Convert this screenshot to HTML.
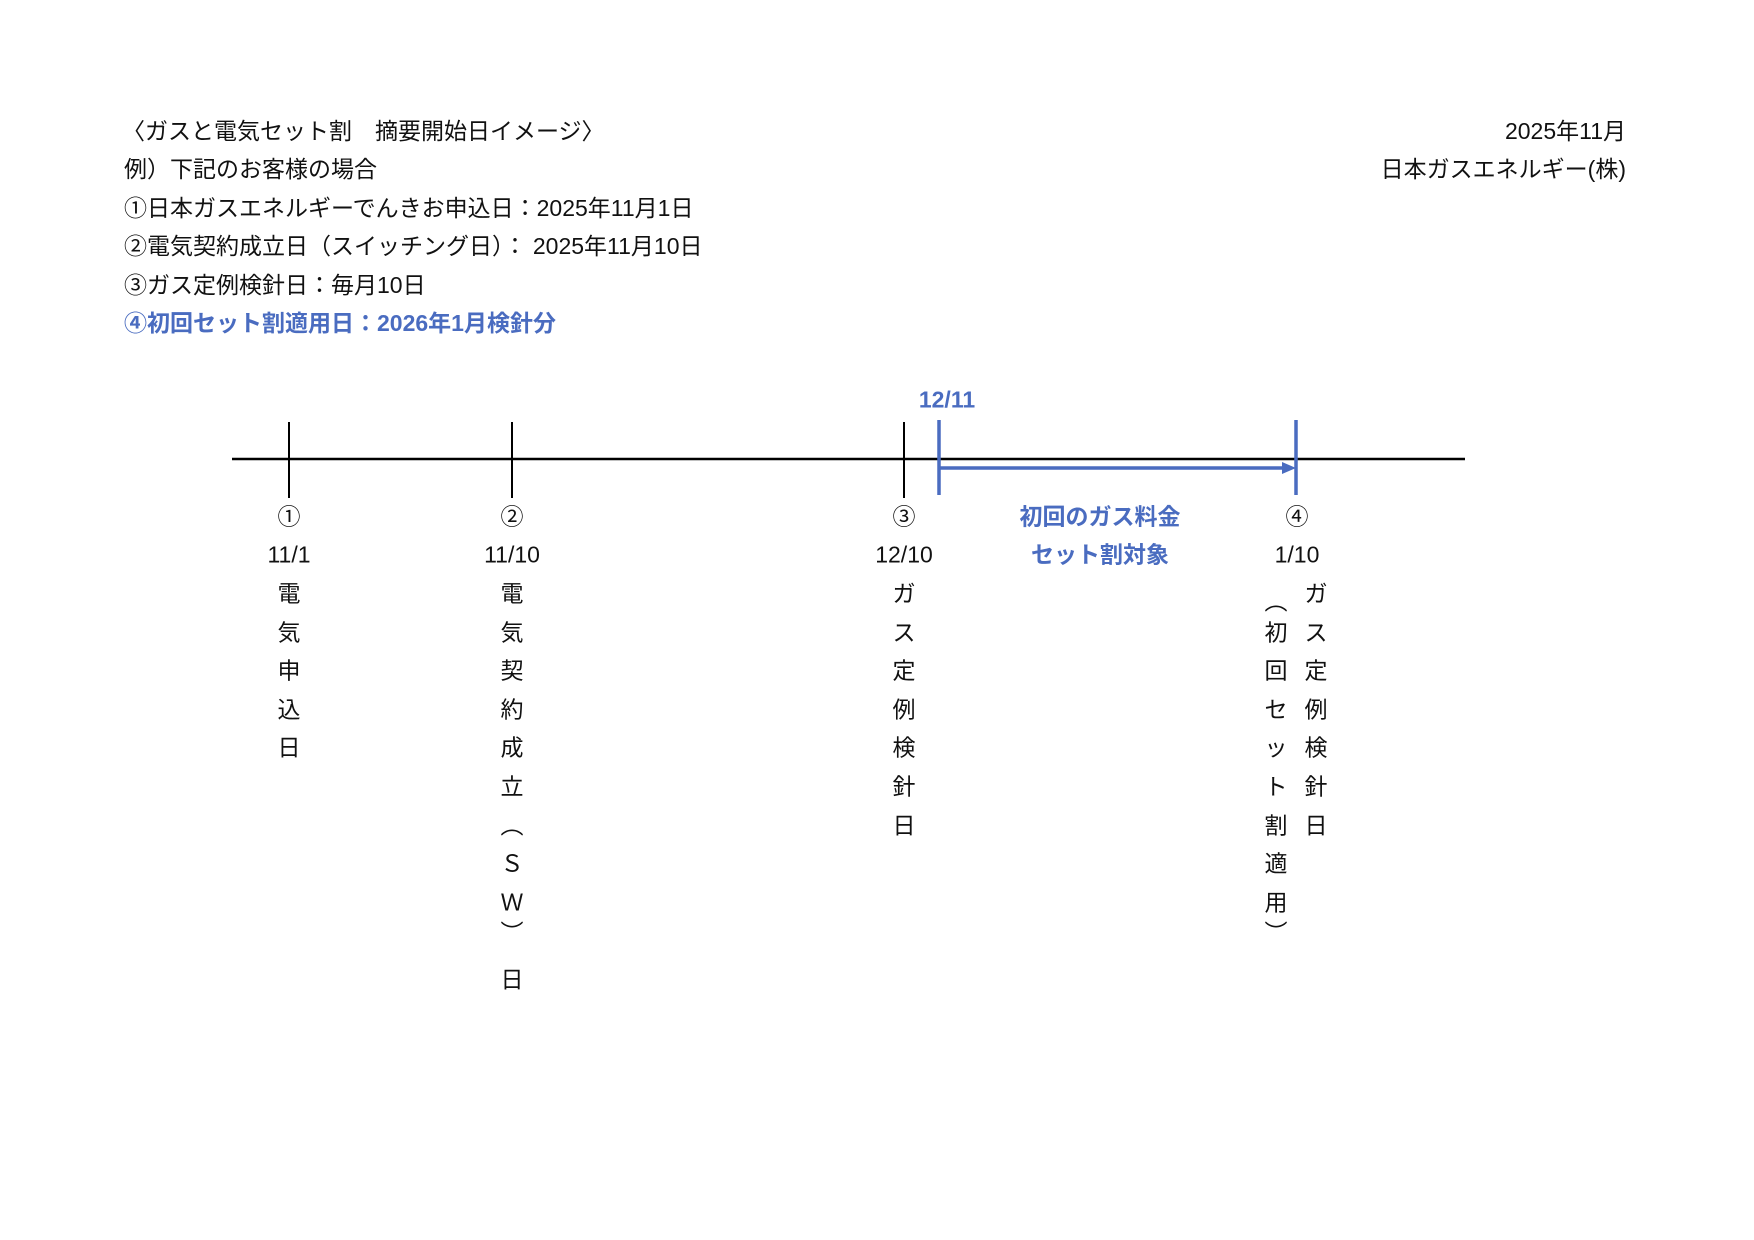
<!DOCTYPE html>
<html><head><meta charset="utf-8"><style>
html,body{margin:0;padding:0;background:#fff;}
body{width:1754px;height:1240px;position:relative;overflow:hidden;font-family:"Liberation Sans","Noto Sans CJK JP",sans-serif;font-size:23px;color:#111;}
.t{position:absolute;white-space:nowrap;line-height:1;}
.c{position:absolute;transform:translate(-50%,-50%);white-space:nowrap;line-height:1;}
.b{color:#4a6cc0;font-weight:bold;}
</style></head><body>
<div class="t" style="left:122px;top:120px">〈ガスと電気セット割　摘要開始日イメージ〉</div>
<div class="t" style="left:124px;top:158px">例）下記のお客様の場合</div>
<div class="t" style="left:124px;top:197px">①日本ガスエネルギーでんきお申込日：2025年11月1日</div>
<div class="t" style="left:124px;top:235px">②電気契約成立日（スイッチング日）：&nbsp;2025年11月10日</div>
<div class="t" style="left:124px;top:274px">③ガス定例検針日：毎月10日</div>
<div class="t b" style="left:124px;top:312px">④初回セット割適用日：2026年1月検針分</div>
<div class="t" style="right:128px;top:120px">2025年11月</div>
<div class="t" style="right:128px;top:158px">日本ガスエネルギー(株)</div>

<svg style="position:absolute;left:0;top:0" width="1754" height="1240">
<line x1="232" y1="459" x2="1465" y2="459" stroke="#000" stroke-width="2.5"/>
<line x1="289" y1="422" x2="289" y2="498" stroke="#000" stroke-width="2"/>
<line x1="512" y1="422" x2="512" y2="498" stroke="#000" stroke-width="2"/>
<line x1="904" y1="422" x2="904" y2="498" stroke="#000" stroke-width="2"/>
<line x1="939" y1="420" x2="939" y2="495" stroke="#4a6cc0" stroke-width="3.5"/>
<line x1="1296" y1="420" x2="1296" y2="495" stroke="#4a6cc0" stroke-width="3.5"/>
<line x1="939" y1="468" x2="1284" y2="468" stroke="#4a6cc0" stroke-width="3.5"/>
<polygon points="1282,462 1296,468 1282,474" fill="#4a6cc0"/>
</svg>

<div class="c b" style="left:947px;top:400px">12/11</div>
<div class="c" style="left:289px;top:517px">①</div>
<div class="c" style="left:512px;top:517px">②</div>
<div class="c" style="left:904px;top:517px">③</div>
<div class="c" style="left:1297px;top:517px">④</div>
<div class="c" style="left:289px;top:555px">11/1</div>
<div class="c" style="left:512px;top:555px">11/10</div>
<div class="c" style="left:904px;top:555px">12/10</div>
<div class="c" style="left:1297px;top:555px">1/10</div>
<div class="c b" style="left:1100px;top:517px">初回のガス料金</div>
<div class="c b" style="left:1100px;top:555px">セット割対象</div>

<div class="c" style="left:289px;top:594px">電</div>
<div class="c" style="left:289px;top:633px">気</div>
<div class="c" style="left:289px;top:671px">申</div>
<div class="c" style="left:289px;top:710px">込</div>
<div class="c" style="left:289px;top:748px">日</div>

<div class="c" style="left:512px;top:594px">電</div>
<div class="c" style="left:512px;top:633px">気</div>
<div class="c" style="left:512px;top:671px">契</div>
<div class="c" style="left:512px;top:710px">約</div>
<div class="c" style="left:512px;top:748px">成</div>
<div class="c" style="left:512px;top:787px">立</div>
<div class="c" style="left:512px;top:826px">︵</div>
<div class="c" style="left:512px;top:864px">Ｓ</div>
<div class="c" style="left:512px;top:903px">Ｗ</div>
<div class="c" style="left:512px;top:933px">︶</div>
<div class="c" style="left:512px;top:980px">日</div>

<div class="c" style="left:904px;top:594px">ガ</div>
<div class="c" style="left:904px;top:633px">ス</div>
<div class="c" style="left:904px;top:671px">定</div>
<div class="c" style="left:904px;top:710px">例</div>
<div class="c" style="left:904px;top:748px">検</div>
<div class="c" style="left:904px;top:787px">針</div>
<div class="c" style="left:904px;top:826px">日</div>

<div class="c" style="left:1316px;top:594px">ガ</div>
<div class="c" style="left:1316px;top:633px">ス</div>
<div class="c" style="left:1316px;top:671px">定</div>
<div class="c" style="left:1316px;top:710px">例</div>
<div class="c" style="left:1316px;top:748px">検</div>
<div class="c" style="left:1316px;top:787px">針</div>
<div class="c" style="left:1316px;top:826px">日</div>

<div class="c" style="left:1276px;top:602px">︵</div>
<div class="c" style="left:1276px;top:633px">初</div>
<div class="c" style="left:1276px;top:671px">回</div>
<div class="c" style="left:1276px;top:710px">セ</div>
<div class="c" style="left:1276px;top:748px">ッ</div>
<div class="c" style="left:1276px;top:787px">ト</div>
<div class="c" style="left:1276px;top:826px">割</div>
<div class="c" style="left:1276px;top:864px">適</div>
<div class="c" style="left:1276px;top:903px">用</div>
<div class="c" style="left:1276px;top:933px">︶</div>
</body></html>
